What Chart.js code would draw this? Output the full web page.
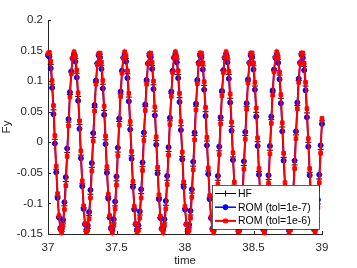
<!DOCTYPE html>
<html>
<head>
<meta charset="utf-8">
<script src="https://cdn.jsdelivr.net/npm/chart.js@4.4.1/dist/chart.umd.min.js"></script>
<style>
  html, body { margin: 0; padding: 0; background: #fff; }
  #myChart { display: block; }
</style>
</head>
<body>
<canvas id="myChart" width="357" height="268"></canvas>
<script>
// time samples (x axis)
const time = [
  37, 37.01, 37.02, 37.03, 37.04, 37.05, 37.06, 37.07, 37.08, 37.09,
  37.1, 37.11, 37.12, 37.13, 37.14, 37.15, 37.16, 37.17, 37.18, 37.19,
  37.2, 37.21, 37.22, 37.23, 37.24, 37.25, 37.26, 37.27, 37.28, 37.29,
  37.3, 37.31, 37.32, 37.33, 37.34, 37.35, 37.36, 37.37, 37.38, 37.39,
  37.4, 37.41, 37.42, 37.43, 37.44, 37.45, 37.46, 37.47, 37.48, 37.49,
  37.5, 37.51, 37.52, 37.53, 37.54, 37.55, 37.56, 37.57, 37.58, 37.59,
  37.6, 37.61, 37.62, 37.63, 37.64, 37.65, 37.66, 37.67, 37.68, 37.69,
  37.7, 37.71, 37.72, 37.73, 37.74, 37.75, 37.76, 37.77, 37.78, 37.79,
  37.8, 37.81, 37.82, 37.83, 37.84, 37.85, 37.86, 37.87, 37.88, 37.89,
  37.9, 37.91, 37.92, 37.93, 37.94, 37.95, 37.96, 37.97, 37.98, 37.99,
  38, 38.01, 38.02, 38.03, 38.04, 38.05, 38.06, 38.07, 38.08, 38.09,
  38.1, 38.11, 38.12, 38.13, 38.14, 38.15, 38.16, 38.17, 38.18, 38.19,
  38.2, 38.21, 38.22, 38.23, 38.24, 38.25, 38.26, 38.27, 38.28, 38.29,
  38.3, 38.31, 38.32, 38.33, 38.34, 38.35, 38.36, 38.37, 38.38, 38.39,
  38.4, 38.41, 38.42, 38.43, 38.44, 38.45, 38.46, 38.47, 38.48, 38.49,
  38.5, 38.51, 38.52, 38.53, 38.54, 38.55, 38.56, 38.57, 38.58, 38.59,
  38.6, 38.61, 38.62, 38.63, 38.64, 38.65, 38.66, 38.67, 38.68, 38.69,
  38.7, 38.71, 38.72, 38.73, 38.74, 38.75, 38.76, 38.77, 38.78, 38.79,
  38.8, 38.81, 38.82, 38.83, 38.84, 38.85, 38.86, 38.87, 38.88, 38.89,
  38.9, 38.91, 38.92, 38.93, 38.94, 38.95, 38.96, 38.97, 38.98, 38.99,
  39
];

// HF (full model)
const hf = [
  .144, .144, .127, .095, .053, .005, -.044, -.088, -.122, -.142, -.146, -.132, -.104, -.064, -.017, .033, .078, .115, .138, .146,
  .137, .113, .075, .029, -.021, -.068, -.107, -.134, -.146, -.141, -.120, -.085, -.041, .008, .057, .098, .129, .144, .144, .126,
  .095, .052, .004, -.045, -.089, -.123, -.142, -.145, -.132, -.104, -.063, -.016, .034, .079, .116, .139, .146, .137, .112, .074,
  .028, -.022, -.069, -.108, -.134, -.146, -.141, -.119, -.084, -.040, .010, .058, .099, .129, .145, .143, .126, .094, .051, .003,
  -.046, -.090, -.123, -.142, -.145, -.132, -.103, -.062, -.015, .035, .080, .116, .139, .146, .136, .111, .073, .027, -.023, -.069,
  -.108, -.135, -.146, -.140, -.119, -.083, -.039, .011, .059, .100, .130, .145, .143, .125, .093, .050, .002, -.047, -.091, -.124,
  -.143, -.145, -.131, -.102, -.062, -.014, .036, .081, .117, .139, .146, .136, .111, .072, .026, -.024, -.070, -.109, -.135, -.146,
  -.140, -.118, -.083, -.038, .011, .059, .100, .130, .145, .143, .125, .092, .049, .001, -.048, -.091, -.124, -.143, -.145, -.131,
  -.102, -.061, -.013, .037, .082, .117, .140, .146, .136, .110, .072, .025, -.025, -.071, -.110, -.136, -.146, -.140, -.118, -.082,
  -.037, .012, .060, .101, .131, .145, .143, .124, .092, .048, .000, -.049, -.092, -.125, -.143, -.145, -.130, -.101, -.060, -.012, .035
];

// ROM, tol = 1e-7
const romTol7 = [
  .142, .140, .121, .089, .046, -.002, -.049, -.091, -.123, -.140, -.142, -.127, -.098, -.057, -.010, .038, .082, .116, .137, .143,
  .132, .106, .068, .022, -.026, -.072, -.109, -.134, -.143, -.136, -.114, -.078, -.034, .015, .061, .101, .129, .142, .139, .120,
  .088, .045, -.003, -.050, -.092, -.123, -.140, -.142, -.126, -.097, -.056, -.009, .039, .083, .117, .138, .143, .132, .105, .067,
  .021, -.027, -.073, -.110, -.134, -.143, -.136, -.113, -.077, -.033, .016, .062, .102, .129, .142, .139, .120, .087, .044, -.004,
  -.051, -.093, -.124, -.141, -.141, -.126, -.096, -.055, -.008, .040, .083, .117, .138, .143, .131, .105, .066, .020, -.028, -.073,
  -.110, -.134, -.143, -.135, -.112, -.077, -.032, .016, .063, .102, .130, .142, .139, .119, .086, .043, -.005, -.052, -.093, -.124,
  -.141, -.141, -.126, -.096, -.055, -.007, .041, .084, .118, .138, .143, .131, .104, .065, .019, -.029, -.074, -.111, -.135, -.143,
  -.135, -.112, -.076, -.031, .017, .064, .103, .130, .142, .139, .119, .086, .042, -.006, -.053, -.094, -.125, -.141, -.141, -.125,
  -.095, -.054, -.006, .042, .085, .119, .138, .143, .130, .103, .064, .018, -.030, -.075, -.111, -.135, -.143, -.135, -.111, -.075,
  -.030, .018, .065, .104, .130, .143, .138, .118, .085, .041, -.007, -.054, -.095, -.125, -.141, -.141, -.125, -.094, -.053, -.005, .030
];

// ROM, tol = 1e-6
const romTol6 = [
  .145, .147, .132, .101, .060, .011, -.039, -.084, -.120, -.142, -.148, -.137, -.110, -.071, -.023, .027, .074, .112, .138, .148,
  .141, .118, .081, .035, -.014, -.063, -.104, -.133, -.147, -.144, -.125, -.091, -.047, .002, .051, .095, .127, .145, .146, .131,
  .101, .059, .010, -.040, -.085, -.120, -.142, -.148, -.136, -.109, -.070, -.022, .028, .075, .113, .138, .148, .141, .117, .080,
  .034, -.015, -.064, -.105, -.133, -.147, -.144, -.124, -.091, -.046, .003, .052, .095, .128, .145, .146, .131, .100, .058, .009,
  -.041, -.086, -.121, -.142, -.148, -.136, -.109, -.069, -.021, .029, .075, .114, .139, .148, .140, .117, .080, .034, -.016, -.065,
  -.105, -.134, -.147, -.144, -.124, -.090, -.045, .004, .053, .096, .128, .146, .146, .130, .099, .057, .008, -.042, -.087, -.122,
  -.143, -.148, -.136, -.108, -.068, -.020, .030, .076, .114, .139, .148, .140, .116, .079, .033, -.017, -.065, -.106, -.134, -.147,
  -.144, -.123, -.089, -.044, .005, .054, .097, .129, .146, .146, .130, .098, .056, .007, -.043, -.087, -.122, -.143, -.148, -.135,
  -.107, -.067, -.019, .031, .077, .115, .139, .148, .140, .115, .078, .032, -.018, -.066, -.107, -.135, -.147, -.143, -.123, -.088,
  -.043, .006, .055, .098, .129, .146, .146, .129, .098, .055, .006, -.043, -.088, -.123, -.143, -.147, -.135, -.107, -.066, -.018, .039
];

const seriesNames = ["HF", "ROM (tol=1e-7)", "ROM (tol=1e-6)"];
const xTicks = [37, 37.5, 38, 38.5, 39];
const yTicks = [-0.15, -0.1, -0.05, 0, 0.05, 0.1, 0.15, 0.2];

const FONT = "'Liberation Sans', Arial, Helvetica, sans-serif";
const AXIS_COLOR = "#262626";

const toPoints = (ys) => time.map((t, i) => ({ x: t, y: ys[i] }));
// matlab prints 37, 37.5, 0.2, -0.05 ... without trailing zeros
const shortLabel = (v) => String(+Number(v).toFixed(2));

// matlab style: inward tick marks + legend box in the lower right corner
const matlabAxes = {
  id: "matlabAxes",
  afterDatasetsDraw(chart) {
    const { ctx, chartArea, scales } = chart;
    ctx.save();
    ctx.strokeStyle = AXIS_COLOR;
    ctx.lineWidth = 1;
    ctx.beginPath();
    xTicks.forEach((v) => {
      const px = Math.round(scales.x.getPixelForValue(v)) + 0.5;
      ctx.moveTo(px, chartArea.bottom);
      ctx.lineTo(px, chartArea.bottom - 3);
    });
    yTicks.forEach((v) => {
      const py = Math.round(scales.y.getPixelForValue(v)) + 0.5;
      ctx.moveTo(chartArea.left, py);
      ctx.lineTo(chartArea.left + 3, py);
    });
    ctx.stroke();

    // legend
    const w = 107;
    const h = 44;
    const left = Math.round(chartArea.right - 3 - w);
    const top = Math.round(chartArea.bottom - 5 - h);
    ctx.fillStyle = "#fff";
    ctx.fillRect(left, top, w, h);
    ctx.strokeStyle = AXIS_COLOR;
    ctx.lineWidth = 0.75;
    ctx.strokeRect(left + 0.5, top + 0.5, w, h);

    // legend rows follow the plotting order HF, tol 1e-7, tol 1e-6
    const rows = [2, 1, 0].map((i) => chart.data.datasets[i]);
    rows.forEach((ds, i) => {
      const y = top + 8.5 + i * 13.7;
      ctx.strokeStyle = ds.borderColor;
      ctx.lineWidth = ds.borderWidth;
      ctx.beginPath();
      ctx.moveTo(left + 3, y);
      ctx.lineTo(left + 24, y);
      ctx.stroke();
      ctx.fillStyle = ds.pointBackgroundColor;
      ctx.strokeStyle = ds.pointBorderColor;
      ctx.lineWidth = ds.pointBorderWidth;
      Chart.helpers.drawPoint(ctx, {
        pointStyle: ds.pointStyle,
        radius: ds.pointRadius,
        rotation: 0,
        borderWidth: ds.pointBorderWidth,
      }, left + 13.5, y);
      ctx.fillStyle = "#000";
      ctx.font = "10.5px " + FONT;
      ctx.textAlign = "left";
      ctx.textBaseline = "middle";
      ctx.fillText(ds.label, left + 26, y + 0.5);
    });
    ctx.restore();
  },
};

const ctx = document.getElementById("myChart").getContext("2d");
const myChart = new Chart(ctx, {
  type: "line",
  data: {
    datasets: [
      {
        label: seriesNames[2],
        data: toPoints(romTol6),
        borderColor: "#ff0000",
        borderWidth: 2,
        pointStyle: "rect",
        pointRadius: 2.6,
        pointBorderWidth: 1,
        pointBackgroundColor: "#ff0000",
        pointBorderColor: "#ff0000",
        clip: false,
      },
      {
        label: seriesNames[1],
        data: toPoints(romTol7),
        borderColor: "#0000ff",
        borderWidth: 1.5,
        pointStyle: "circle",
        pointRadius: 2.5,
        pointBorderWidth: 1,
        pointBackgroundColor: "#0000ff",
        pointBorderColor: "#0000ff",
        clip: false,
      },
      {
        label: seriesNames[0],
        data: toPoints(hf),
        borderColor: "#000000",
        borderWidth: 1,
        pointStyle: "cross",
        pointRadius: 3,
        pointBorderWidth: 1,
        pointBackgroundColor: "#000000",
        pointBorderColor: "#000000",
        clip: false,
      },
    ],
  },
  options: {
    responsive: false,
    animation: false,
    events: [],
    devicePixelRatio: 1,
    layout: { padding: { top: 20, right: 35, bottom: 0, left: 0 } },
    plugins: { legend: { display: false }, tooltip: { enabled: false } },
    scales: {
      x: {
        type: "linear",
        min: 37,
        max: 39,
        afterBuildTicks: (s) => { s.ticks = xTicks.map((v) => ({ value: v })); },
        afterFit: (s) => { s.height = 34; },
        ticks: {
          color: AXIS_COLOR,
          font: { family: FONT, size: 11.5 },
          padding: 7,
          maxRotation: 0,
          autoSkip: false,
          callback: shortLabel,
        },
        grid: { display: false, drawTicks: false },
        border: { display: true, color: AXIS_COLOR, width: 1 },
        title: {
          display: true,
          text: "time",
          color: AXIS_COLOR,
          font: { family: FONT, size: 11.5 },
          padding: { top: 1, bottom: 0 },
        },
      },
      y: {
        min: -0.15,
        max: 0.2,
        afterBuildTicks: (s) => { s.ticks = yTicks.map((v) => ({ value: v })); },
        afterFit: (s) => { s.width = 48; },
        ticks: {
          color: AXIS_COLOR,
          font: { family: FONT, size: 11.5 },
          padding: 5,
          callback: shortLabel,
        },
        grid: { display: false, drawTicks: false },
        border: { display: true, color: AXIS_COLOR, width: 1 },
        title: {
          display: true,
          text: "Fy",
          color: AXIS_COLOR,
          font: { family: FONT, size: 11.5 },
          padding: { top: 0, bottom: 0 },
        },
      },
    },
  },
  plugins: [matlabAxes],
});
</script>
</body>
</html>
